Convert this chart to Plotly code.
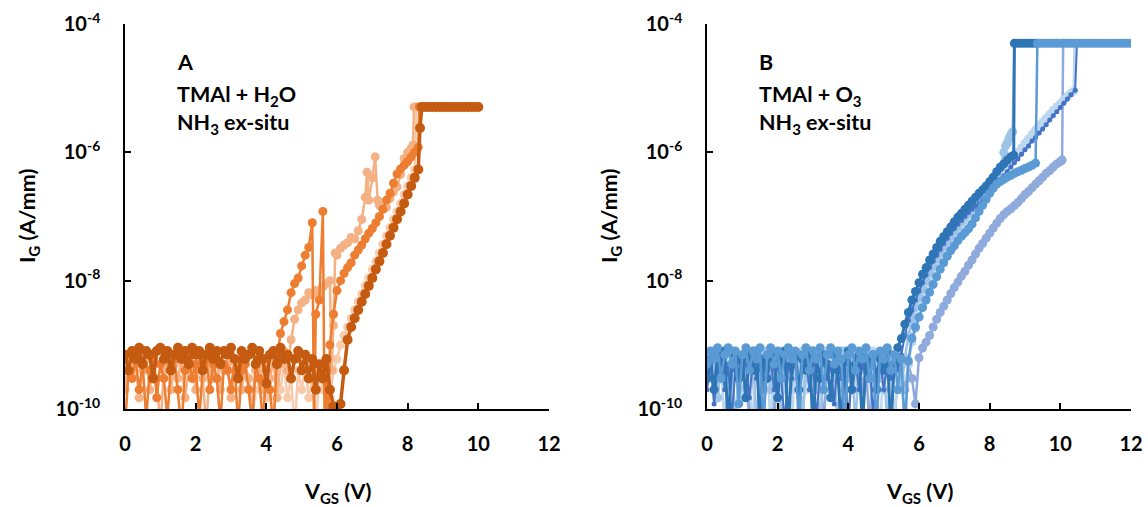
import plotly.graph_objects as go

# ---------------- Panel A : TMAl + H2O (V_GS [V], I_G [A/mm]) ----------------
A_DARK = [(0.0,7e-10),(0.1,4e-10),(0.2,8e-10),(0.3,6e-10),(0.4,9e-10),(0.5,5e-10),(0.6,8e-10),(0.7,7e-10),
          (0.8,3e-10),(0.9,8e-10),(1.0,9e-10),(1.1,6e-10),(1.2,8e-10),(1.3,4e-10),(1.4,7e-10),(1.5,9e-10),
          (1.6,6e-10),(1.7,8e-10),(1.8,5e-10),(1.9,9e-10),(2.0,7e-10),(2.1,8e-10),(2.2,4e-10),(2.3,7e-10),
          (2.4,9e-10),(2.5,6e-10),(2.6,8e-10),(2.7,5e-10),(2.8,8e-10),(2.9,7e-10),(3.0,9e-10),(3.1,6e-10),
          (3.2,3e-10),(3.3,8e-10),(3.4,6e-10),(3.5,7e-10),(3.6,9e-10),(3.7,5e-10),(3.8,8e-10),(3.9,6e-10),
          (4.0,2.5e-10),(4.1,7e-10),(4.2,8e-10),(4.3,5e-10),(4.4,9e-10),(4.5,6e-10),(4.6,7e-10),(4.7,3e-10),
          (4.8,6e-10),(4.9,8e-10),(5.0,4e-10),(5.1,7e-10),(5.2,3e-10),(5.3,6e-10),(5.4,2e-10),(5.5,5e-10),
          (5.6,3e-10),(5.7,6e-10),(5.8,2e-10),(5.9,1.1e-10),(6.0,9e-11),(6.1,1.2e-10),(6.2,4e-10),
          (6.3,1.2e-9),(6.4,1.9e-9),(6.5,2.6e-9),(6.6,3.5e-9),(6.7,4.7e-9),(6.8,6.2e-9),(6.9,8.3e-9),
          (7.0,1.1e-8),(7.1,1.5e-8),(7.2,2.0e-8),(7.3,2.7e-8),(7.4,3.7e-8),(7.5,5.0e-8),(7.6,6.7e-8),
          (7.7,9.1e-8),(7.8,1.2e-7),(7.9,1.6e-7),(8.0,2.2e-7),(8.1,3.0e-7),(8.2,4.0e-7),(8.3,5.4e-7),
          (8.35,2.4e-6),(8.4,5.1e-6),(8.5,5.1e-6),(8.6,5.1e-6),(8.7,5.1e-6),(8.8,5.1e-6),(8.9,5.1e-6),
          (9.0,5.1e-6),(9.1,5.1e-6),(9.2,5.1e-6),(9.3,5.1e-6),(9.4,5.1e-6),(9.5,5.1e-6),(9.6,5.1e-6),
          (9.7,5.1e-6),(9.8,5.1e-6),(9.9,5.1e-6),(10.0,5.1e-6)]

A_ORANGE = [(0.0,5e-11),(0.1,4e-10),(0.2,3e-10),(0.3,6e-10),(0.4,2e-10),(0.5,5e-10),(0.6,7e-11),(0.7,4e-10),
            (0.8,6e-10),(0.9,1.5e-10),(1.0,5e-10),(1.1,3e-10),(1.2,7e-11),(1.3,5e-10),(1.4,6e-10),(1.5,2e-10),
            (1.6,5e-11),(1.7,4e-10),(1.8,6e-10),(1.9,3e-10),(2.0,5e-10),(2.1,7e-11),(2.2,4e-10),(2.3,6e-10),
            (2.4,2e-10),(2.5,5e-10),(2.6,3e-10),(2.7,6e-11),(2.8,5e-10),(2.9,4e-10),(3.0,2e-10),(3.1,6e-10),
            (3.2,5e-11),(3.3,4e-10),(3.4,5e-10),(3.5,2e-10),(3.6,6e-11),(3.7,5e-10),(3.8,3e-10),(3.9,6e-11),
            (4.0,4e-10),(4.1,2e-10),(4.2,5e-11),(4.3,6e-10),(4.4,1.5e-9),(4.5,2.3e-9),(4.6,3.5e-9),(4.7,6.5e-9),
            (4.8,9e-9),(4.9,1.1e-8),(5.0,1.7e-8),(5.1,2.5e-8),(5.2,3.3e-8),(5.3,8e-8),(5.35,5e-11),(5.4,3e-9),
            (5.5,5e-9),(5.6,1.2e-7),(5.65,5e-11),(5.7,4e-10),(5.75,6e-11),(5.8,1e-9),(5.9,3e-9),(6.0,7e-9),
            (6.1,1e-8),(6.2,1.3e-8),(6.3,1.6e-8),(6.4,1.9e-8),(6.5,2.5e-8),(6.6,3e-8),(6.7,3.6e-8),(6.8,4.5e-8),
            (6.9,5.5e-8),(7.0,6.5e-8),(7.1,8e-8),(7.2,1e-7),(7.3,1.3e-7),(7.4,1.8e-7),(7.5,2.3e-7),(7.6,3.3e-7),
            (7.7,4.6e-7),(7.8,5.5e-7),(7.9,6.3e-7),(8.0,7.2e-7),(8.1,8.5e-7),(8.2,1e-6),(8.3,1.2e-6),(8.33,5.1e-6)]

A_LIGHT = [(0.0,2e-10),(0.1,6e-10),(0.2,3e-10),(0.3,5e-10),(0.4,1.5e-10),(0.5,4e-10),(0.6,6e-10),(0.7,2e-10),
           (0.8,5e-10),(0.9,3e-10),(1.0,5e-11),(1.1,4e-10),(1.2,6e-10),(1.3,2e-10),(1.4,5e-10),(1.5,3e-10),
           (1.6,6e-10),(1.7,1.5e-10),(1.8,4e-10),(1.9,5e-10),(2.0,2e-10),(2.1,6e-10),(2.2,3e-10),(2.3,5e-11),
           (2.4,5e-10),(2.5,3e-10),(2.6,6e-10),(2.7,2e-10),(2.8,4e-10),(2.9,5e-10),(3.0,1.5e-10),(3.1,4e-10),
           (3.2,6e-10),(3.3,2e-10),(3.4,5e-10),(3.5,3e-10),(3.6,5e-11),(3.7,4e-10),(3.8,6e-10),(3.9,2e-10),
           (4.0,5e-10),(4.1,3e-10),(4.2,6e-10),(4.3,1.5e-10),(4.4,5e-10),(4.5,8e-10),(4.6,4e-10),(4.7,1.2e-9),
           (4.8,2.5e-9),(4.9,3.5e-9),(5.0,4.5e-9),(5.1,5e-9),(5.2,6.5e-9),(5.3,6e-9),(5.4,7e-9),(5.5,6.5e-9),
           (5.6,8e-9),(5.7,9e-9),(5.8,1e-8),(5.85,4e-10),(5.9,2e-9),(5.95,2.7e-8),(6.0,2.5e-8),(6.1,3.2e-8),
           (6.2,3.6e-8),(6.3,3.9e-8),(6.4,4.7e-8),(6.5,4.5e-8),(6.6,6e-8),(6.7,9e-8),(6.8,2e-7),(6.85,4.9e-7),
           (6.9,1.8e-7),(7.0,4e-7),(7.08,8.5e-7),(7.15,1.8e-7),(7.2,1.5e-7),(7.3,1.3e-7),(7.4,1.4e-7),(7.5,1.9e-7),
           (7.6,2.4e-7),(7.7,2.9e-7),(7.8,4.5e-7),(7.9,8e-7),(8.0,1e-6),(8.1,1.15e-6),(8.15,1.3e-6),(8.18,5.1e-6),
           (8.25,5.1e-6),(8.35,5.1e-6)]

A_PALE = [(3.5,3e-10),(3.6,1.5e-10),(3.7,4e-10),(3.8,2e-10),(3.9,5e-10),(4.0,1.5e-10),(4.1,3e-10),(4.2,5e-11),
          (4.3,4e-10),(4.4,2e-10),(4.5,5e-10),(4.6,1.5e-10),(4.7,3e-10),(4.8,5e-11),(4.9,4e-10),(5.0,2e-10),
          (5.1,5e-10),(5.2,1.5e-10),(5.3,3e-10),(5.4,5e-11),(5.5,4e-10),(5.6,2e-10),(5.7,3e-10),(5.8,1.5e-10),
          (5.9,4e-10),(6.0,6e-10),(6.1,1e-9),(6.2,1.4e-9),(6.3,1.9e-9),(6.4,2.6e-9),(6.5,3.5e-9),(6.6,4.7e-9),
          (6.7,6.2e-9),(6.8,8.3e-9),(6.9,1.1e-8),(7.0,1.5e-8),(7.1,2e-8),(7.2,2.7e-8),(7.3,3.7e-8),(7.4,5e-8),
          (7.5,6.7e-8),(7.6,9.1e-8),(7.7,1.2e-7),(7.8,1.6e-7),(7.9,2.2e-7),(8.0,3e-7),(8.1,4e-7),(8.2,5.4e-7),
          (8.25,5.1e-6)]

# ---------------- Panel B : TMAl + O3 ----------------
B_DARK = [(0.0,3e-10),(0.1,6e-10),(0.2,2e-10),(0.3,7e-10),(0.4,4e-10),(0.5,8e-10),(0.6,5e-11),(0.7,5e-10),
          (0.8,7e-10),(0.9,3e-10),(1.0,6e-10),(1.1,1.5e-10),(1.2,7e-10),(1.3,4e-10),(1.4,8e-10),(1.5,5e-11),
          (1.6,6e-10),(1.7,3e-10),(1.8,7e-10),(1.9,5e-10),(2.0,1.5e-10),(2.1,6e-10),(2.2,8e-10),(2.3,5e-11),
          (2.4,5e-10),(2.5,7e-10),(2.6,2e-10),(2.7,6e-10),(2.8,4e-10),(2.9,8e-10),(3.0,5e-11),(3.1,6e-10),
          (3.2,3e-10),(3.3,7e-10),(3.4,5e-10),(3.5,1.5e-10),(3.6,7e-10),(3.7,4e-10),(3.8,5e-11),(3.9,6e-10),
          (4.0,8e-10),(4.1,2e-10),(4.2,5e-10),(4.3,7e-10),(4.4,5e-11),(4.5,6e-10),(4.6,3e-10),(4.7,7e-10),
          (4.8,2e-10),(4.9,6e-10),(5.0,4e-10),(5.1,8e-10),(5.2,5e-11),(5.3,5e-10),(5.4,9e-10),(5.5,1.25e-9),
          (5.6,2.1e-9),(5.7,3.2e-9),(5.8,5e-9),(5.9,6.8e-9),(6.0,9.3e-9),(6.1,1.26e-8),(6.2,1.6e-8),(6.3,2.1e-8),
          (6.4,2.6e-8),(6.5,3.3e-8),(6.6,4.1e-8),(6.7,4.9e-8),(6.8,5.8e-8),(6.9,6.9e-8),(7.0,8.3e-8),(7.1,9.8e-8),
          (7.2,1.12e-7),(7.3,1.3e-7),(7.4,1.5e-7),(7.5,1.74e-7),(7.6,2e-7),(7.7,2.3e-7),(7.8,2.6e-7),(7.9,3e-7),
          (8.0,3.5e-7),(8.1,4.1e-7),(8.2,5e-7),(8.3,5.8e-7),(8.4,6.6e-7),(8.5,7.6e-7),(8.6,8.5e-7),(8.68,9e-7),
          (8.7,5e-5),(8.8,5e-5),(8.9,5e-5),(9.0,5e-5),(9.1,5e-5),(9.2,5e-5),(9.3,5e-5)]

B_NAVY = [(0.0,2e-10),(0.1,5e-10),(0.2,1.2e-10),(0.3,4e-10),(0.4,6e-10),(0.5,2e-10),(0.6,5e-10),(0.7,7e-11),
          (0.8,4e-10),(0.9,6e-10),(1.0,3e-10),(1.1,5e-10),(1.2,1.5e-10),(1.3,6e-10),(1.4,3e-10),(1.5,5e-10),
          (1.6,8e-11),(1.7,4e-10),(1.8,6e-10),(1.9,2e-10),(2.0,5e-10),(2.1,3e-10),(2.2,6e-11),(2.3,5e-10),
          (2.4,3e-10),(2.5,6e-10),(2.6,1.5e-10),(2.7,4e-10),(2.8,6e-10),(2.9,2e-10),(3.0,5e-10),(3.1,7e-11),
          (3.2,4e-10),(3.3,6e-10),(3.4,3e-10),(3.5,5e-10),(3.6,1.2e-10),(3.7,6e-10),(3.8,3e-10),(3.9,5e-10),
          (4.0,6e-11),(4.1,4e-10),(4.2,6e-10),(4.3,2e-10),(4.4,5e-10),(4.5,3e-10),(4.6,6e-10),(4.7,8e-11),
          (4.8,4e-10),(4.9,6e-10),(5.0,2e-10),(5.1,5e-10),(5.2,3e-10),(5.3,6e-10),(5.4,4e-10),(5.5,7e-10),
          (5.6,1.4e-9),(5.7,2.4e-9),(5.8,3.5e-9),(5.9,5e-9),(6.0,6.9e-9),(6.1,9.3e-9),(6.2,1.23e-8),(6.3,1.6e-8),
          (6.4,2e-8),(6.5,2.5e-8),(6.6,3.1e-8),(6.7,3.8e-8),(6.8,4.6e-8),(6.9,5.5e-8),(7.0,6.5e-8),(7.1,7.6e-8),
          (7.2,8.7e-8),(7.3,1e-7),(7.4,1.15e-7),(7.5,1.3e-7),(7.6,1.45e-7),(7.7,1.6e-7),(7.8,1.8e-7),(7.9,2e-7),
          (8.0,2.3e-7),(8.1,2.7e-7),(8.2,3.2e-7),(8.3,3.7e-7),(8.4,4.3e-7),(8.5,5e-7),(8.6,5.9e-7),(8.7,6.9e-7),
          (8.8,7.9e-7),(8.9,9.3e-7),(9.0,1.1e-6),(9.1,1.26e-6),(9.2,1.5e-6),(9.3,1.7e-6),(9.4,2e-6),(9.5,2.3e-6),
          (9.6,2.7e-6),(9.7,3.2e-6),(9.8,3.7e-6),(9.9,4.3e-6),(10.0,5e-6),(10.1,5.8e-6),(10.2,6.8e-6),
          (10.3,7.9e-6),(10.42,9.3e-6),(10.47,5e-5)]

B_LIGHT = [(0.0,6e-10),(0.1,3e-10),(0.2,8e-10),(0.3,1.5e-10),(0.4,5e-10),(0.5,7e-10),(0.6,3e-10),(0.7,8e-10),
           (0.8,5e-11),(0.9,5e-10),(1.0,7e-10),(1.1,2e-10),(1.2,6e-10),(1.3,8e-10),(1.4,5e-11),(1.5,6e-10),
           (1.6,4e-10),(1.7,8e-10),(1.8,2e-10),(1.9,6e-10),(2.0,7e-10),(2.1,5e-11),(2.2,5e-10),(2.3,8e-10),
           (2.4,3e-10),(2.5,6e-10),(2.6,7e-10),(2.7,5e-11),(2.8,6e-10),(2.9,3e-10),(3.0,8e-10),(3.1,5e-10),
           (3.2,5e-11),(3.3,7e-10),(3.4,4e-10),(3.5,8e-10),(3.6,5e-10),(3.7,5e-11),(3.8,6e-10),(3.9,8e-10),
           (4.0,3e-10),(4.1,6e-10),(4.2,5e-11),(4.3,7e-10),(4.4,4e-10),(4.5,8e-10),(4.6,5e-10),(4.7,5e-11),
           (4.8,6e-10),(4.9,3e-10),(5.0,7e-10),(5.1,5e-11),(5.2,6e-10),(5.3,4e-10),(5.4,7e-10),(5.5,2e-10),
           (5.6,6.3e-10),(5.7,1.4e-9),(5.8,2.5e-9),(5.9,3.8e-9),(6.0,5.4e-9),(6.1,7.4e-9),(6.2,1e-8),(6.3,1.32e-8),
           (6.4,1.7e-8),(6.5,2.2e-8),(6.6,2.75e-8),(6.7,3.4e-8),(6.8,4.2e-8),(6.9,5e-8),(7.0,6e-8),(7.1,7.1e-8),
           (7.2,8.3e-8),(7.3,9.8e-8),(7.4,1.15e-7),(7.5,1.35e-7),(7.6,1.6e-7),(7.7,1.85e-7),(7.8,2.2e-7),
           (7.9,2.5e-7),(8.0,3e-7),(8.1,3.5e-7),(8.2,4.5e-7),(8.3,6e-7),(8.4,1e-6),(8.45,1.26e-6),(8.5,1.4e-6),
           (8.55,1.65e-6),(8.6,1.9e-6),(8.65,2.1e-6),(8.7,5e-5)]

B_PALE = [(0.0,4e-10),(0.1,7e-10),(0.2,2e-10),(0.3,8e-10),(0.4,5e-10),(0.5,5e-11),(0.6,6e-10),(0.7,3e-10),
          (0.8,8e-10),(0.9,5e-10),(1.0,1.5e-10),(1.1,7e-10),(1.2,4e-10),(1.3,5e-11),(1.4,6e-10),(1.5,8e-10),
          (1.6,3e-10),(1.7,6e-10),(1.8,5e-11),(1.9,7e-10),(2.0,4e-10),(2.1,8e-10),(2.2,2e-10),(2.3,6e-10),
          (2.4,5e-11),(2.5,7e-10),(2.6,5e-10),(2.7,8e-10),(2.8,2e-10),(2.9,6e-10),(3.0,4e-10),(3.1,5e-11),
          (3.2,7e-10),(3.3,5e-10),(3.4,8e-10),(3.5,2e-10),(3.6,6e-10),(3.7,4e-10),(3.8,5e-11),(3.9,7e-10),
          (4.0,5e-10),(4.1,8e-10),(4.2,2e-10),(4.3,6e-10),(4.4,5e-11),(4.5,7e-10),(4.6,4e-10),(4.7,8e-10),
          (4.8,2e-10),(4.9,5e-11),(5.0,6e-10),(5.1,4e-10),(5.2,7e-10),(5.3,5e-11),(5.4,5e-10),(5.5,3e-10),
          (5.6,5e-11),(5.7,5e-10),(5.8,1.1e-9),(5.9,1.8e-9),(6.0,2.8e-9),(6.1,4.2e-9),(6.2,6e-9),(6.3,8.3e-9),
          (6.4,1.12e-8),(6.5,1.48e-8),(6.6,1.9e-8),(6.7,2.4e-8),(6.8,3e-8),(6.9,3.7e-8),(7.0,4.5e-8),(7.1,5.4e-8),
          (7.2,6.5e-8),(7.3,7.8e-8),(7.4,9.3e-8),(7.5,1.1e-7),(7.6,1.3e-7),(7.7,1.5e-7),(7.8,1.78e-7),(7.9,2e-7),
          (8.0,2.5e-7),(8.1,3.2e-7),(8.2,3.8e-7),(8.3,4.5e-7),(8.4,5.2e-7),(8.5,6.2e-7),(8.6,7.2e-7),(8.7,8.5e-7),
          (8.8,1e-6),(8.9,1.17e-6),(9.0,1.38e-6),(9.1,1.62e-6),(9.2,1.9e-6),(9.3,2.24e-6),(9.4,2.57e-6),
          (9.5,2.95e-6),(9.6,3.4e-6),(9.7,3.9e-6),(9.8,4.5e-6),(9.9,5.1e-6),(10.0,5.75e-6),(10.1,6.6e-6),
          (10.2,7.4e-6),(10.3,8.3e-6),(10.38,9e-6),(10.4,5e-5)]

B_MED = [(0.0,5e-10),(0.1,8e-10),(0.2,6e-10),(0.3,9e-10),(0.4,3e-10),(0.5,7e-10),(0.6,9e-10),(0.7,5e-10),
         (0.8,8e-10),(0.9,1.2e-10),(1.0,7e-10),(1.1,9e-10),(1.2,4e-10),(1.3,8e-10),(1.4,6e-10),(1.5,9e-10),
         (1.6,5e-11),(1.7,7e-10),(1.8,9e-10),(1.9,5e-10),(2.0,8e-10),(2.1,3e-10),(2.2,7e-10),(2.3,9e-10),
         (2.4,6e-10),(2.5,8e-10),(2.6,5e-11),(2.7,7e-10),(2.8,9e-10),(2.9,4e-10),(3.0,8e-10),(3.1,6e-10),
         (3.2,9e-10),(3.3,2e-10),(3.4,7e-10),(3.5,9e-10),(3.6,5e-10),(3.7,8e-10),(3.8,6e-10),(3.9,5e-11),
         (4.0,7e-10),(4.1,9e-10),(4.2,4e-10),(4.3,8e-10),(4.4,6e-10),(4.5,9e-10),(4.6,3e-10),(4.7,7e-10),
         (4.8,5e-11),(4.9,8e-10),(5.0,6e-10),(5.1,9e-10),(5.2,4e-10),(5.3,7e-10),(5.4,2e-10),(5.5,6e-10),
         (5.6,5e-11),(5.7,5.6e-10),(5.8,1.26e-9),(5.9,1.9e-9),(6.0,2.7e-9),(6.1,3.8e-9),(6.2,5e-9),(6.3,6.6e-9),
         (6.4,8.7e-9),(6.5,1.15e-8),(6.6,1.5e-8),(6.7,1.9e-8),(6.8,2.4e-8),(6.9,2.95e-8),(7.0,3.5e-8),
         (7.1,4.2e-8),(7.2,4.9e-8),(7.3,5.6e-8),(7.4,6.4e-8),(7.5,7.6e-8),(7.6,9.5e-8),(7.7,1.2e-7),(7.8,1.5e-7),
         (7.9,1.86e-7),(8.0,2.3e-7),(8.1,2.75e-7),(8.2,3.2e-7),(8.3,3.5e-7),(8.4,3.8e-7),(8.5,4.1e-7),
         (8.6,4.4e-7),(8.7,4.7e-7),(8.8,5e-7),(8.9,5.25e-7),(9.0,5.6e-7),(9.1,5.9e-7),(9.2,6.3e-7),(9.3,6.8e-7),
         (9.35,5e-5),(9.4,5e-5),(9.5,5e-5),(9.6,5e-5),(9.7,5e-5),(9.8,5e-5),(9.9,5e-5),(10.0,5e-5),(10.1,5e-5),
         (10.2,5e-5),(10.3,5e-5),(10.4,5e-5),(10.5,5e-5),(10.6,5e-5),(10.7,5e-5),(10.8,5e-5),(10.9,5e-5),
         (11.0,5e-5),(11.1,5e-5),(11.2,5e-5),(11.3,5e-5),(11.4,5e-5),(11.5,5e-5),(11.6,5e-5),(11.7,5e-5),
         (11.8,5e-5),(11.9,5e-5),(12.0,5e-5)]

B_LAV = [(0.0,3e-10),(0.1,7e-10),(0.2,5e-10),(0.3,1.5e-10),(0.4,6e-10),(0.5,8e-10),(0.6,4e-10),(0.7,5e-11),
         (0.8,6e-10),(0.9,3e-10),(1.0,7e-10),(1.1,5e-10),(1.2,5e-11),(1.3,7e-10),(1.4,4e-10),(1.5,8e-10),
         (1.6,2e-10),(1.7,6e-10),(1.8,5e-10),(1.9,5e-11),(2.0,7e-10),(2.1,3e-10),(2.2,6e-10),(2.3,8e-10),
         (2.4,2e-10),(2.5,5e-10),(2.6,7e-10),(2.7,5e-11),(2.8,6e-10),(2.9,4e-10),(3.0,8e-10),(3.1,2e-10),
         (3.2,6e-10),(3.3,5e-11),(3.4,5e-10),(3.5,7e-10),(3.6,3e-10),(3.7,6e-10),(3.8,8e-10),(3.9,2e-10),
         (4.0,5e-11),(4.1,6e-10),(4.2,4e-10),(4.3,7e-10),(4.4,2e-10),(4.5,5e-10),(4.6,5e-11),(4.7,7e-10),
         (4.8,4e-10),(4.9,6e-10),(5.0,2e-10),(5.1,5e-10),(5.2,7e-10),(5.3,5e-11),(5.4,4e-10),(5.5,6e-10),
         (5.6,2e-10),(5.7,5e-10),(5.8,3e-10),(5.9,1.2e-10),(6.0,6.3e-10),(6.1,8.9e-10),(6.2,1.1e-9),(6.3,1.4e-9),
         (6.4,1.9e-9),(6.5,2.5e-9),(6.6,3.2e-9),(6.7,4e-9),(6.8,5e-9),(6.9,6.3e-9),(7.0,7.8e-9),(7.1,9.5e-9),
         (7.2,1.17e-8),(7.3,1.4e-8),(7.4,1.74e-8),(7.5,2.1e-8),(7.6,2.6e-8),(7.7,3.2e-8),(7.8,3.8e-8),
         (7.9,4.6e-8),(8.0,5.5e-8),(8.1,6.6e-8),(8.2,7.9e-8),(8.3,9.3e-8),(8.4,1.07e-7),(8.5,1.2e-7),
         (8.6,1.32e-7),(8.7,1.48e-7),(8.8,1.66e-7),(8.9,1.9e-7),(9.0,2.2e-7),(9.1,2.45e-7),(9.2,2.8e-7),
         (9.3,3.2e-7),(9.4,3.6e-7),(9.5,4.1e-7),(9.6,4.7e-7),(9.7,5.2e-7),(9.8,5.9e-7),(9.9,6.6e-7),
         (10.0,7.2e-7),(10.05,7.6e-7),(10.08,5e-5)]

Y_TICKS = [1e-10, 1e-8, 1e-6, 1e-4]
Y_TICKTEXT = ["10<sup>-10</sup>", "10<sup>-8</sup>", "10<sup>-6</sup>", "10<sup>-4</sup>"]
X_TICKS = [0, 2, 4, 6, 8, 10, 12]

FONT = "Lato"
W, H = 1148, 507

fig = go.Figure()

def add(series, color, xa, ya, msize=9, lw=2.5):
    xs = [p[0] for p in series]
    ys = [p[1] for p in series]
    fig.add_trace(go.Scatter(x=xs, y=ys, mode="lines+markers", xaxis=xa, yaxis=ya,
                             line=dict(color=color, width=lw),
                             marker=dict(color=color, size=msize),
                             showlegend=False, hoverinfo="skip"))

# panel A traces (back to front)
add(A_PALE, "#F8CBAD", "x", "y")
add(A_LIGHT, "#F4B183", "x", "y")
add(A_ORANGE, "#ED7D31", "x", "y")
add(A_DARK, "#C55A11", "x", "y", msize=10, lw=3.5)

# panel B traces (back to front)
add(B_LAV, "#8FAADC", "x2", "y2")
add(B_PALE, "#BDD7EE", "x2", "y2")
add(B_LIGHT, "#9DC3E6", "x2", "y2")
add(B_NAVY, "#4472C4", "x2", "y2", msize=5, lw=2)
add(B_DARK, "#2E75B6", "x2", "y2", msize=9, lw=3)
add(B_MED, "#5B9BD5", "x2", "y2")

def px_x(p):
    return p / W

def px_y(p):
    return 1 - p / H

tickfont = dict(family=FONT, size=20, color="black", weight="bold")
common_x = dict(range=[0, 12], tickvals=X_TICKS, ticks="inside", ticklen=6, tickwidth=1.5,
                tickcolor="black", showline=True, linecolor="black", linewidth=1.5, automargin=False,
                showgrid=False, zeroline=False, tickfont=tickfont, ticklabelstandoff=16)
common_y = dict(type="log", range=[-10, -4], tickvals=Y_TICKS, ticktext=Y_TICKTEXT, ticks="inside",
                ticklen=6, tickwidth=1.5, tickcolor="black", showline=True, linecolor="black",
                linewidth=1.5, showgrid=False, zeroline=False, tickfont=tickfont, automargin=False,
                ticklabelstandoff=19)

ydom = [px_y(409), px_y(24)]
fig.update_layout(
    width=W, height=H, margin=dict(l=0, r=0, t=0, b=0, pad=0), autosize=False,
    paper_bgcolor="white", plot_bgcolor="white",
    font=dict(family=FONT, color="black"),
    xaxis=dict(domain=[px_x(125), px_x(549)], anchor="y", **common_x),
    yaxis=dict(domain=ydom, anchor="x", **common_y),
    xaxis2=dict(domain=[px_x(707), px_x(1131)], anchor="y2", **common_x),
    yaxis2=dict(domain=ydom, anchor="x2", **common_y),
)

ann_font = dict(family=FONT, size=21.5, color="black", weight="bold")
texts = [
    (175, 62, "A"), (175, 95, "TMAl + H<sub>2</sub>O"), (175, 123, "NH<sub>3</sub> ex-situ"),
    (757, 62, "B"), (757, 95, "TMAl + O<sub>3</sub>"), (757, 123, "NH<sub>3</sub> ex-situ"),
]
for x, y, t in texts:
    fig.add_annotation(x=px_x(x), y=px_y(y), xref="paper", yref="paper", text=t, showarrow=False,
                       xanchor="left", yanchor="middle", font=ann_font)

title_font = dict(family=FONT, size=21.5, color="black", weight="bold")
for cx in (338, 920):
    fig.add_annotation(x=px_x(cx), y=px_y(492), xref="paper", yref="paper",
                       text="V<sub>GS</sub> (V)", showarrow=False,
                       xanchor="center", yanchor="middle", font=title_font)
for cx in (29, 611):
    fig.add_annotation(x=px_x(cx), y=px_y(216), xref="paper", yref="paper",
                       text="I<sub>G</sub> (A/mm)", showarrow=False, textangle=-90,
                       xanchor="center", yanchor="middle", font=title_font)

fig.write_html("out.html", config={"displayModeBar": False},
               post_script="document.body.style.margin='0';")
